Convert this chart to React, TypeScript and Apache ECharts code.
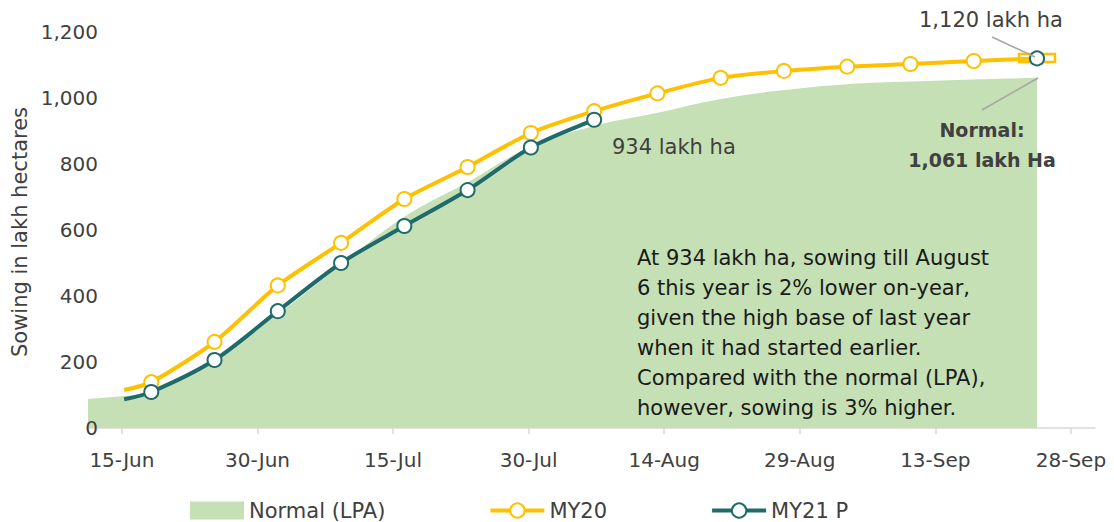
import React, { useEffect, useRef } from "react";
import * as echarts from "echarts";

const xTickLabels = ["15-Jun", "30-Jun", "15-Jul", "30-Jul", "14-Aug", "29-Aug", "13-Sep", "28-Sep"];
const xTickDates = ["2020-06-15", "2020-06-30", "2020-07-15", "2020-07-30", "2020-08-14", "2020-08-29", "2020-09-13", "2020-09-28"];

const normalDates = [
  "2020-06-11", "2020-06-15", "2020-06-18", "2020-06-25", "2020-07-02", "2020-07-09", "2020-07-16",
  "2020-07-23", "2020-07-30", "2020-08-06", "2020-08-13", "2020-08-20", "2020-08-27", "2020-09-03",
  "2020-09-10", "2020-09-17", "2020-09-24",
];
const normalValues = [88, 97, 106, 212, 345, 495, 640, 745, 853, 915, 955, 997, 1024, 1042, 1050, 1056, 1061];

const my20Dates = [
  "2020-06-15", "2020-06-18", "2020-06-25", "2020-07-02", "2020-07-09", "2020-07-16", "2020-07-23",
  "2020-07-30", "2020-08-06", "2020-08-13", "2020-08-20", "2020-08-27", "2020-09-03", "2020-09-10",
  "2020-09-17", "2020-09-24",
];
const my20Values = [115, 139, 261, 432, 561, 694, 791, 894, 960, 1014, 1061, 1082, 1095, 1103, 1112, 1120];

const my21Dates = [
  "2020-06-15", "2020-06-18", "2020-06-25", "2020-07-02", "2020-07-09", "2020-07-16", "2020-07-23",
  "2020-07-30", "2020-08-06",
];
const my21Values = [87, 109, 206, 354, 500, 612, 721, 850, 934];

const seriesNames = ["Normal (LPA)", "MY20", "MY21 P"];

const GREEN = "#C5E0B4";
const YELLOW = "#FFC000";
const TEAL = "#1F6B6B";
const TXT = "#404040";
const FONT = "'DejaVu Sans', sans-serif";

const DAY = 24 * 3600 * 1000;
// days since 2020-01-01 as numeric x position
const dn = (s: string) => (Date.UTC(+s.slice(0, 4), +s.slice(5, 7) - 1, +s.slice(8, 10)) - Date.UTC(2020, 0, 1)) / DAY;
const tickVals = xTickDates.map((d) => dn(d) - 0.25);

export default function App() {
  const ref = useRef<HTMLDivElement>(null);
  useEffect(() => {
    if (!ref.current) return;
    const chart = echarts.init(ref.current, null, { renderer: "svg" });

    const my20Data = my20Dates.map((d, i) => {
      const item: any = { value: [dn(d), my20Values[i]] };
      if (i === 0) item.symbol = "none";
      if (i === my20Dates.length - 1) item.itemStyle = { borderColor: TEAL };
      return item;
    });
    const my21Data = my21Dates.map((d, i) => {
      const item: any = { value: [dn(d), my21Values[i]] };
      if (i === 0) item.symbol = "none";
      return item;
    });

    chart.setOption({
      animation: false,
      textStyle: { fontFamily: FONT },
      grid: { left: 88, right: 19, top: 32, bottom: 94, containLabel: false },
      xAxis: {
        type: "value",
        min: dn("2020-06-11"),
        max: dn("2020-09-30") + 10 / 24,
        axisLine: { show: true, lineStyle: { color: "#D9D9D9", width: 1.5 } },
        axisTick: { show: true, length: 6, lineStyle: { color: "#D9D9D9", width: 1.5 }, customValues: tickVals },
        splitLine: { show: false },
        axisLabel: {
          customValues: tickVals,
          color: TXT,
          fontSize: 20,
          margin: 22,
          fontFamily: FONT,
          formatter: (v: number) => {
            const i = tickVals.findIndex((t) => Math.abs(t - v) < 0.01);
            return i >= 0 ? xTickLabels[i] : "";
          },
        },
      },
      yAxis: {
        type: "value",
        min: 0,
        max: 1200,
        interval: 200,
        z: 10,
        axisLine: { show: false },
        axisTick: { show: false },
        splitLine: { show: false },
        axisLabel: {
          color: TXT,
          fontSize: 20,
          margin: -10,
          fontFamily: FONT,
          formatter: (v: number) => v.toLocaleString("en-US"),
        },
      },
      legend: {
        left: 185,
        top: 495,
        itemWidth: 54,
        itemHeight: 18,
        itemGap: 103,
        textStyle: { color: TXT, fontSize: 21, fontFamily: FONT },
        data: [
          { name: seriesNames[0], icon: "rect", itemStyle: { color: GREEN } },
          { name: seriesNames[1], lineStyle: { width: 4, color: YELLOW } },
          { name: seriesNames[2], lineStyle: { width: 4, color: TEAL } },
        ],
      },
      series: [
        {
          name: seriesNames[0],
          type: "line",
          data: normalDates.map((d, i) => [dn(d), normalValues[i]]),
          smooth: 0.4,
          symbol: "none",
          lineStyle: { width: 0, color: GREEN },
          itemStyle: { color: GREEN },
          areaStyle: { color: GREEN, opacity: 1 },
          z: 1,
        },
        {
          name: seriesNames[1],
          type: "line",
          data: my20Data,
          smooth: 0.25,
          symbol: "circle",
          symbolSize: 14,
          lineStyle: { width: 4, color: YELLOW },
          itemStyle: { color: "#FFFFFF", borderColor: YELLOW, borderWidth: 2 },
          z: 3,
        },
        {
          name: seriesNames[2],
          type: "line",
          data: my21Data,
          smooth: 0.3,
          symbol: "circle",
          symbolSize: 14,
          lineStyle: { width: 4, color: TEAL },
          itemStyle: { color: "#FFFFFF", borderColor: TEAL, borderWidth: 2 },
          z: 4,
        },
      ],
      graphic: [
        {
          type: "text",
          x: 20,
          y: 232,
          rotation: Math.PI / 2,
          z: 100,
          style: { text: "Sowing in lakh hectares", fill: TXT, fontSize: 21, fontFamily: FONT, align: "center", verticalAlign: "middle" },
        },
        {
          type: "rect",
          z: 2,
          shape: { x: 1019, y: 54, width: 36, height: 8 },
          style: { fill: "#FFFFFF", stroke: YELLOW, lineWidth: 2.5 },
        },
        {
          type: "line",
          z: 100,
          shape: { x1: 992, y1: 37, x2: 1035, y2: 57 },
          style: { stroke: "#A6A6A6", lineWidth: 1.5 },
        },
        {
          type: "line",
          z: 100,
          shape: { x1: 982, y1: 110, x2: 1038, y2: 78 },
          style: { stroke: "#A6A6A6", lineWidth: 1.5 },
        },
        {
          type: "text",
          x: 919,
          y: 20,
          z: 100,
          style: { text: "1,120 lakh ha", fill: TXT, fontSize: 21, fontFamily: FONT, align: "left", verticalAlign: "middle" },
        },
        {
          type: "text",
          x: 982,
          y: 130,
          z: 100,
          style: { text: "Normal:", fill: TXT, fontSize: 19, fontWeight: "bold", fontFamily: FONT, align: "center", verticalAlign: "middle" },
        },
        {
          type: "text",
          x: 982,
          y: 160,
          z: 100,
          style: { text: "1,061 lakh Ha", fill: TXT, fontSize: 19, fontWeight: "bold", fontFamily: FONT, align: "center", verticalAlign: "middle" },
        },
        {
          type: "text",
          x: 612,
          y: 147,
          z: 100,
          style: { text: "934 lakh ha", fill: TXT, fontSize: 21, fontFamily: FONT, align: "left", verticalAlign: "middle" },
        },
        {
          type: "text",
          x: 637,
          y: 243,
          z: 100,
          style: {
            text:
              "At 934 lakh ha, sowing till August\n6 this year is 2% lower on-year,\ngiven the high base of last year\nwhen it had started earlier.\nCompared with the normal (LPA),\nhowever, sowing is 3% higher.",
            fill: "#1A1A1A",
            fontSize: 21,
            lineHeight: 30,
            fontFamily: FONT,
            align: "left",
            verticalAlign: "top",
          },
        },
      ],
    });
    return () => chart.dispose();
  }, []);

  return <div ref={ref} style={{ width: 1114, height: 522, position: "absolute", left: 0, top: 0 }} />;
}
